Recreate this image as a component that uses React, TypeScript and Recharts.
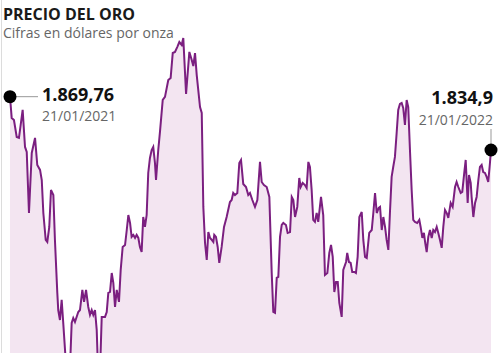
import React from 'react';
import { AreaChart, Area, XAxis, YAxis } from 'recharts';

// días desde el 21/01/2021 y precio del oro (USD por onza)
const days = [
  0, 1.3, 3.0, 5.1, 6.8, 9.6, 11.4, 12.7, 14.4, 16.5, 19.0, 20.7, 22.8, 24.1, 25.3, 27.1, 28.3, 29.8, 31.1, 32.9,
  34.1, 35.9, 36.6, 37.9, 39.2, 40.4, 43.0, 45.5, 46.8, 48.0, 49.3, 51.8, 53.1, 54.9, 56.2, 57.7, 59.4, 60.7, 62.0, 63.2,
  64.5, 65.8, 67.0, 68.3, 69.6, 72.1, 73.4, 74.6, 75.9, 77.2, 78.4, 79.7, 81.0, 82.7, 84.0, 85.5, 87.3, 88.6, 89.8, 91.1,
  92.3, 93.6, 94.9, 96.1, 97.4, 98.6, 99.9, 101.1, 102.4, 103.7, 104.9, 106.2, 107.5, 108.7, 110.0, 110.8, 112.5, 113.8, 115.9, 117.6,
  120.1, 121.9, 123.5, 125.2, 126.9, 128.5, 130.3, 131.5, 133.6, 136.1, 137.9, 139.1, 140.4, 141.7, 144.2, 145.5, 146.7, 148.0, 149.3, 150.5,
  151.8, 153.1, 154.3, 155.0, 156.3, 157.6, 158.8, 160.6, 162.4, 164.4, 166.9, 168.2, 169.4, 170.7, 172.5, 174.0, 175.3, 177.0, 179.1, 180.8,
  182.1, 183.9, 185.9, 187.7, 189.7, 191.0, 192.7, 194.8, 196.8, 198.6, 199.8, 201.1, 202.4, 203.6, 204.9, 206.2, 207.4, 209.4, 210.7, 212.5,
  213.8, 215.0, 216.3, 218.0, 219.5, 220.6, 222.1, 223.8, 225.1, 226.4, 227.6, 228.9, 230.1, 231.4, 232.7, 233.9, 236.0, 237.7, 239.0, 240.8,
  242.3, 243.6, 244.9, 246.1, 247.4, 248.7, 249.9, 251.7, 252.9, 255.0, 255.9, 257.2, 258.5, 259.7, 261.3, 262.5, 263.8, 265.1, 266.9, 268.1,
  269.4, 270.7, 272.6, 274.5, 275.7, 277.0, 278.3, 279.8, 280.8, 282.1, 283.3, 284.6, 285.8, 287.1, 288.3, 289.6, 290.8, 292.1, 293.4, 294.6,
  295.9, 297.2, 298.4, 299.7, 301.0, 302.2, 303.5, 304.8, 306.0, 307.3, 309.0, 310.6, 311.6, 312.9, 314.1, 315.1, 316.2, 317.4, 318.7, 320.0,
  321.2, 322.5, 323.8, 325.0, 326.3, 327.6, 328.8, 330.1, 331.4, 332.6, 334.4, 335.9, 337.7, 338.9, 340.2, 342.0, 343.2, 344.7, 345.8, 347.3,
  348.3, 349.6, 350.3, 351.6, 352.9, 354.1, 355.4, 356.6, 357.9, 359.1, 360.4, 361.7, 362.9, 364.2, 365,
];

const prices = [
  1869.76, 1855.8, 1854.5, 1843.4, 1842.8, 1861.1, 1836.9, 1833.6, 1793.7, 1833.0, 1842.8, 1825.1, 1821.9, 1815.3, 1793.7, 1776.1, 1774.8, 1784.6, 1808.8, 1805.5,
  1776.1, 1741.5, 1730.3, 1723.8, 1736.9, 1721.9, 1688.0, 1692.0, 1721.9, 1725.1, 1722.5, 1729.0, 1730.3, 1743.4, 1735.6, 1743.4, 1732.3, 1727.1, 1730.3, 1727.1,
  1730.3, 1717.3, 1686.0, 1690.0, 1725.8, 1725.8, 1729.0, 1741.5, 1742.1, 1754.5, 1748.0, 1732.3, 1743.4, 1735.6, 1756.5, 1771.5, 1772.8, 1782.6, 1792.4, 1787.2,
  1778.1, 1779.4, 1777.4, 1779.4, 1777.4, 1771.5, 1768.2, 1791.1, 1784.6, 1792.4, 1819.9, 1829.7, 1834.9, 1836.9, 1826.4, 1815.3, 1834.9, 1846.7, 1867.6, 1869.6,
  1880.7, 1882.0, 1898.3, 1899.0, 1902.2, 1905.5, 1903.6, 1908.1, 1871.5, 1899.0, 1893.7, 1889.8, 1898.3, 1883.9, 1863.0, 1859.1, 1797.7, 1774.1, 1763.0, 1781.3,
  1777.4, 1776.1, 1774.8, 1779.4, 1778.1, 1771.5, 1761.1, 1771.5, 1784.6, 1791.1, 1800.9, 1802.2, 1806.8, 1805.5, 1806.8, 1826.4, 1828.4, 1812.7, 1810.7, 1805.5,
  1806.8, 1802.2, 1797.7, 1802.2, 1827.1, 1814.0, 1812.0, 1810.7, 1804.2, 1754.5, 1729.0, 1728.4, 1751.3, 1751.9, 1778.1, 1785.9, 1787.2, 1785.9, 1780.7, 1781.3,
  1804.2, 1802.2, 1791.1, 1797.7, 1816.6, 1810.7, 1813.4, 1812.0, 1810.1, 1827.1, 1823.8, 1808.8, 1789.2, 1787.9, 1793.7, 1787.9, 1804.2, 1792.4, 1753.2, 1754.5,
  1767.6, 1772.8, 1765.0, 1742.1, 1748.6, 1748.6, 1734.9, 1725.8, 1756.5, 1761.7, 1767.6, 1761.7, 1761.1, 1755.2, 1755.2, 1754.5, 1765.0, 1791.1, 1794.4, 1776.1,
  1765.0, 1764.3, 1780.7, 1782.6, 1793.7, 1806.8, 1793.7, 1797.0, 1797.7, 1782.6, 1791.1, 1784.6, 1776.1, 1769.6, 1793.7, 1817.3, 1823.8, 1830.4, 1846.0, 1861.1,
  1865.0, 1865.6, 1862.4, 1851.3, 1867.6, 1863.0, 1834.9, 1808.8, 1789.2, 1787.9, 1787.2, 1789.2, 1784.6, 1777.4, 1780.7, 1774.1, 1768.2, 1778.1, 1782.6, 1777.4,
  1782.6, 1781.3, 1784.6, 1780.7, 1776.1, 1770.9, 1784.6, 1795.7, 1793.7, 1790.5, 1800.3, 1797.7, 1810.7, 1814.0, 1810.7, 1806.8, 1807.5, 1819.9, 1828.4, 1800.3,
  1818.6, 1813.4, 1804.2, 1791.1, 1800.3, 1804.2, 1815.3, 1823.8, 1825.1, 1820.5, 1819.9, 1817.3, 1814.0, 1826.4, 1834.9,
];

const firstLabel = { value: '1.869,76', date: '21/01/2021' };
const lastLabel = { value: '1.834,9', date: '21/01/2022' };

const data = days.map((d, i) => ({ d, price: prices[i] }));

const LINE = '#7b1f80';
const FILL = '#f3e5f1';
const FONT = '"Open Sans", sans-serif';

const EndDot = (props: any) => {
  const { cx, cy, index } = props;
  if (index === 0) {
    return (
      <g key="first">
        <line x1={cx} y1={cy} x2={cx + 28} y2={cy} stroke="#999" strokeWidth={1} />
        <circle cx={cx} cy={cy} r={6.5} fill="#000" />
        <text x={cx + 32} y={cy + 4} fontFamily={FONT} fontWeight={700} fontSize={18} fill="#111">{firstLabel.value}</text>
        <text x={cx + 32} y={cy + 24} fontFamily={FONT} fontSize={14} fill="#666">{firstLabel.date}</text>
      </g>
    );
  }
  if (index === data.length - 1) {
    return (
      <g key="last">
        <line x1={cx} y1={cy - 21} x2={cx} y2={cy} stroke="#999" strokeWidth={1} />
        <circle cx={cx} cy={cy} r={6.5} fill="#000" />
        <text x={cx + 2} y={cy - 46} textAnchor="end" fontFamily={FONT} fontWeight={700} fontSize={18} fill="#111">{lastLabel.value}</text>
        <text x={cx + 2} y={cy - 25} textAnchor="end" fontFamily={FONT} fontSize={14} fill="#666">{lastLabel.date}</text>
      </g>
    );
  }
  return <g key={`d${index}`} />;
};

export default function App() {
  return (
    <div style={{ position: 'absolute', left: 0, top: 0, width: 500, height: 353, background: '#fff', overflow: 'hidden' }}>
      <div style={{ position: 'absolute', left: 1, top: 0, width: 1, height: 353, background: '#dcdcdc' }} />
      <AreaChart width={500} height={353} data={data} margin={{ top: 0, right: 9, left: 10, bottom: 0 }}>
        <XAxis dataKey="d" type="number" domain={[0, 365]} hide />
        <YAxis domain={[1702.2, 1932.96]} allowDataOverflow hide />
        <Area
          type="linear"
          dataKey="price"
          stroke={LINE}
          strokeWidth={2}
          fill={FILL}
          fillOpacity={1}
          dot={EndDot}
          activeDot={false}
          isAnimationActive={false}
        />
      </AreaChart>
      <svg width={500} height={45} style={{ position: 'absolute', left: 0, top: 0 }}>
        <text x={3} y={20} fontFamily={FONT} fontWeight={700} fontSize={16} fill="#1a1a1a">PRECIO DEL ORO</text>
        <text x={3} y={38} fontFamily={FONT} fontSize={14} fill="#666">Cifras en dólares por onza</text>
      </svg>
    </div>
  );
}
